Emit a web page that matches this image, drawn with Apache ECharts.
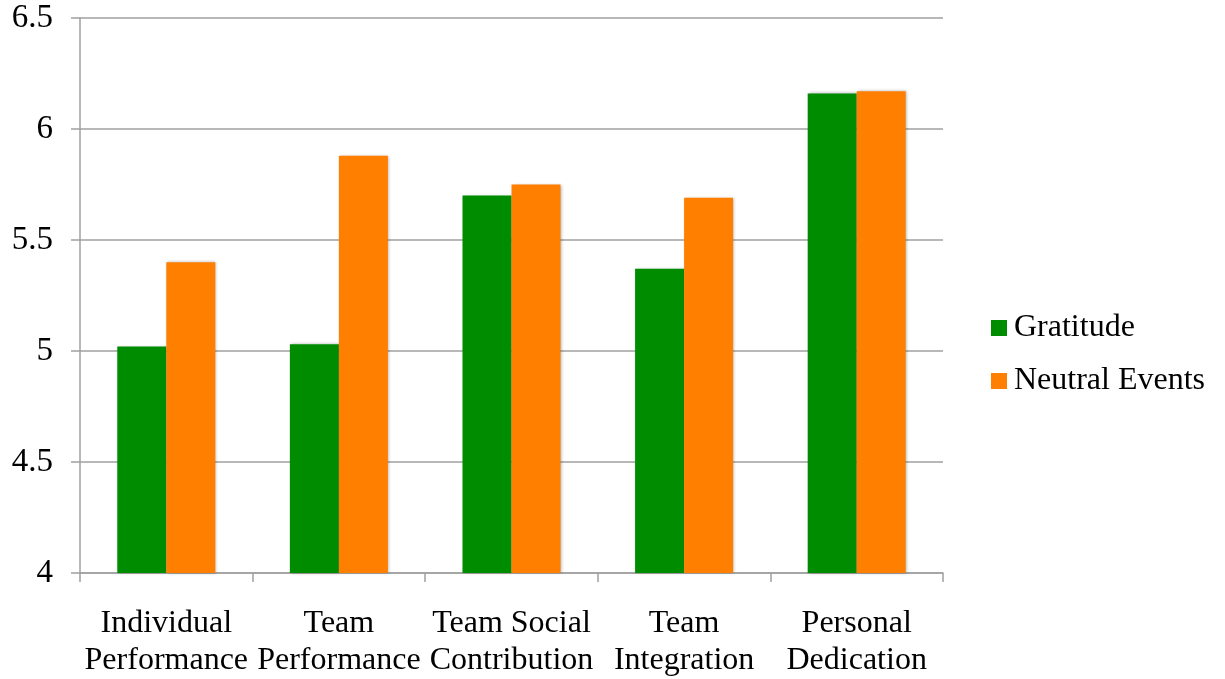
<!DOCTYPE html>
<html>
<head>
<meta charset="utf-8">
<script src="https://cdn.jsdelivr.net/npm/echarts@6/dist/echarts.min.js"></script>
<style>html,body{margin:0;padding:0;background:#fff}#c{width:1225px;height:679px}</style>
</head>
<body>
<div id="c"></div>
<script>
var categories = ["Individual\nPerformance", "Team\nPerformance", "Team Social\nContribution", "Team\nIntegration", "Personal\nDedication"];
var gratitude = [5.02, 5.03, 5.70, 5.37, 6.16];
var neutral = [5.40, 5.88, 5.75, 5.69, 6.17];
var seriesNames = ["Gratitude", "Neutral Events"];

var font = "'Liberation Serif', 'Times New Roman', serif";
var chart = echarts.init(document.getElementById('c'));
var barStyle = function (c) {
  return { color: c, shadowColor: 'rgba(0,0,0,0.3)', shadowBlur: 3, shadowOffsetX: 1, shadowOffsetY: 0 };
};
chart.setOption({
  animation: false,
  backgroundColor: '#fff',
  grid: { left: 80, right: 282, top: 18, bottom: 106, containLabel: false },
  legend: {
    orient: 'vertical', left: 986, top: 307,
    itemWidth: 16, itemHeight: 16, itemGap: 21, icon: 'rect',
    textStyle: { fontFamily: font, fontSize: 32, color: '#000', padding: [0, 0, 0, 2] },
    data: seriesNames
  },
  xAxis: {
    type: 'category', data: categories,
    axisLine: { lineStyle: { color: '#a0a0a0', width: 1.5 } },
    axisTick: { show: true, length: 9, lineStyle: { color: '#a0a0a0', width: 1.5 } },
    axisLabel: { fontFamily: font, fontSize: 32, color: '#000', lineHeight: 37, margin: 32, interval: 0 }
  },
  yAxis: {
    type: 'value', min: 4, max: 6.5, interval: 0.5,
    axisLine: { show: true, lineStyle: { color: '#a0a0a0', width: 1.5 } },
    axisTick: { show: true, length: 9, lineStyle: { color: '#a0a0a0', width: 1.5 } },
    splitLine: { lineStyle: { color: '#a0a0a0', width: 1.5 } },
    axisLabel: { fontFamily: font, fontSize: 33, color: '#000', margin: 27, padding: [8, 0, 0, 0] }
  },
  series: [
    { name: seriesNames[0], type: 'bar', data: gratitude, barWidth: 49, barGap: '0%', itemStyle: barStyle('#008c00') },
    { name: seriesNames[1], type: 'bar', data: neutral, barWidth: 49, barGap: '0%', itemStyle: barStyle('#ff7f00') }
  ]
});
</script>
</body>
</html>
